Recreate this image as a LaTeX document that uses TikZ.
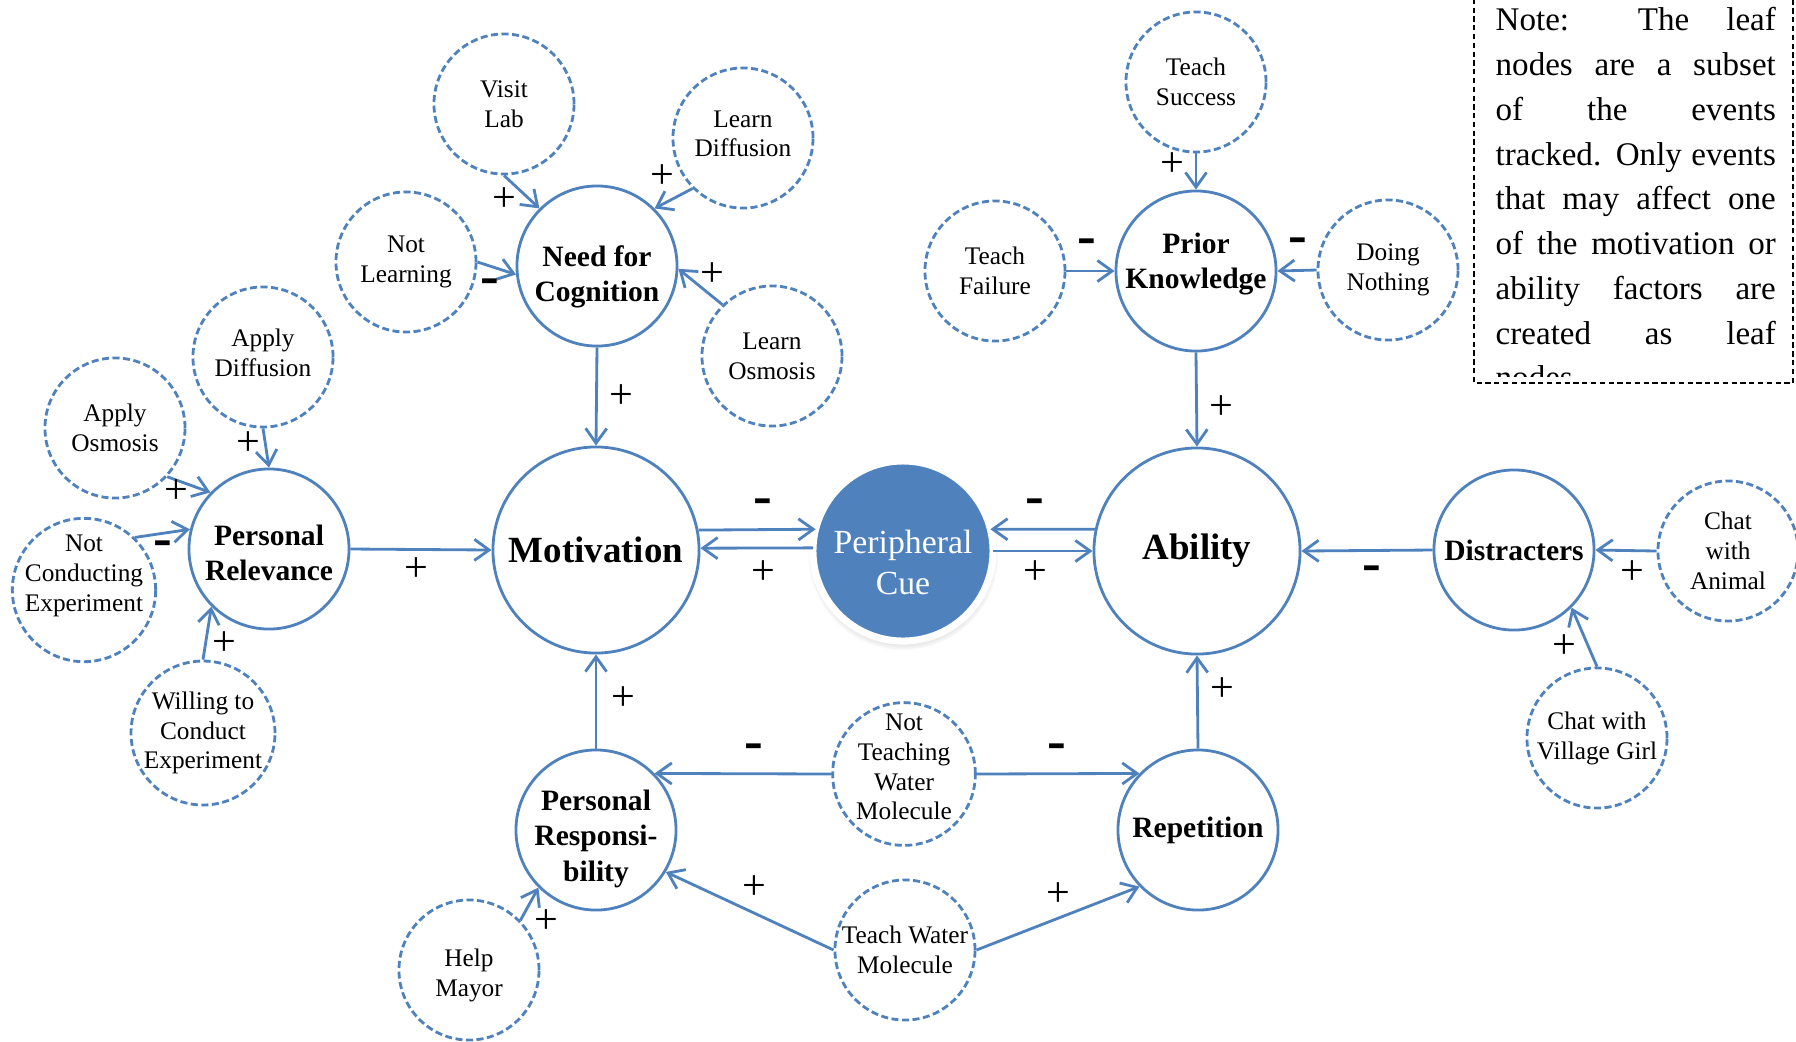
\documentclass[tikz,border=0pt]{standalone}
\usepackage{fontspec}
\setmainfont{Liberation Serif}
\usetikzlibrary{arrows.meta,shadows}
\definecolor{linkblue}{RGB}{79,129,189}
\newcommand{\noteline}[1]{\makebox[2.8cm][s]{#1}}
\newcommand{\tshift}[2]{\raisebox{#1}[\height][\depth]{#2}}
\tikzset{
  >={Straight Barb[length=4.2pt,width=6pt]},
  factor/.style={circle,draw=linkblue,line width=0.8pt,fill=white,
    minimum size=16mm,inner sep=0pt,align=center,
    font=\fontsize{8.4}{10}\selectfont\bfseries},
  bigfactor/.style={factor,minimum size=20.6mm,
    font=\fontsize{10.5}{12}\selectfont\bfseries},
  cuenode/.style={circle,fill=linkblue,draw=white,line width=2pt,
    minimum size=18mm,inner sep=0pt,outer sep=0pt,align=center,text=white,
    font=\fontsize{9.6}{11.8}\selectfont,
    circular drop shadow={shadow xshift=0pt,shadow yshift=-1pt,
      shadow scale=1.06,opacity=0.45}},
  leafevent/.style={circle,draw=linkblue,line width=0.8pt,
    dash pattern=on 2pt off 1pt,minimum size=14mm,inner sep=0pt,
    align=center,font=\fontsize{7.2}{8.5}\selectfont},
  infl/.style={->,draw=linkblue,line width=0.8pt},
  possign/.style={font=\fontsize{12}{12}\selectfont,inner sep=0pt},
  negsign/.style={font=\fontsize{16}{16}\selectfont\bfseries,inner sep=0pt},
  notetext/.style={anchor=north west,align=left,inner sep=0pt,
    font=\fontsize{9.4}{12.72}\selectfont},
  noteframe/.style={draw=black,line width=0.4pt,dash pattern=on 1.5pt off 1pt},
}

\begin{document}
\begin{tikzpicture}[x=0.01cm,y=-0.01cm]
  \useasboundingbox (0,0) rectangle (1796,1041);
  % core factors
  \node[bigfactor] (mot) at (596,550) {Motivation};
  \node[cuenode] (cue) at (903,551)
    {\tshift{-3.2pt}{Peripheral}\\\tshift{-3.2pt}{Cue}};
  \node[bigfactor] (abil) at (1197,551) {Ability};
  \node[factor] (nfc) at (597,266)
    {\tshift{-3.2pt}{Need for}\\\tshift{-3.2pt}{Cognition}};
  \node[factor] (prel) at (269,549)
    {\tshift{-1pt}{Personal}\\\tshift{-1pt}{Relevance}};
  \node[factor] (presp) at (596,830)
    {\tshift{-2.5pt}{Personal}\\\tshift{-2.5pt}{Responsi-}\\\tshift{-2.5pt}{bility}};
  \node[factor] (rep) at (1198,830) {Repetition};
  \node[factor] (pk) at (1196,271)
    {\tshift{2pt}{Prior}\\\tshift{2pt}{Knowledge}};
  \node[factor] (dist) at (1514,550) {Distracters};
  % leaf events
  \node[leafevent] (visit) at (504,104) {Visit\\Lab};
  \node[leafevent] (ldiff) at (743,138)
    {\tshift{1.2pt}{Learn}\\\tshift{1.2pt}{Diffusion}};
  \node[leafevent] (notl) at (406,262) {Not\\Learning};
  \node[leafevent] (losm) at (772,356) {Learn\\Osmosis};
  \node[leafevent] (adiff) at (263,357)
    {\tshift{1.3pt}{Apply}\\\tshift{1.3pt}{Diffusion}};
  \node[leafevent] (aosm) at (115,428) {Apply\\Osmosis};
  \node[leafevent] (notc) at (84,590)
    {\tshift{4pt}{Not}\\\tshift{4pt}{Conducting}\\\tshift{4pt}{Experiment}};
  \node[leafevent] (will) at (203,733) {Willing to\\Conduct\\Experiment};
  \node[leafevent] (help) at (469,970)
    {\tshift{-1.5pt}{Help}\\\tshift{-1.5pt}{Mayor}};
  \node[leafevent] (ntw) at (904,774)
    {\tshift{2pt}{Not}\\\tshift{2pt}{Teaching}\\\tshift{2pt}{Water}\\\tshift{2pt}{Molecule}};
  \node[leafevent] (tw) at (905,950) {Teach Water\\Molecule};
  \node[leafevent] (tsucc) at (1196,82) {Teach\\Success};
  \node[leafevent] (tfail) at (995,271) {Teach\\Failure};
  \node[leafevent] (doing) at (1388,270) {Doing\\Nothing};
  \node[leafevent] (chatA) at (1728,551) {Chat\\with\\Animal};
  \node[leafevent] (chatV) at (1597,738) {Chat with\\Village Girl};
  % influences on need for cognition
  \draw[infl] (visit.south) -- (nfc.135);
  \draw[infl] (ldiff.225) -- (nfc.45);
  \draw[infl] (notl.east) -- (nfc.186);
  \draw[infl] (losm.134) -- (nfc.-2);
  \draw[infl] (nfc.south) -- (mot.north);
  % influences on personal relevance
  \draw[infl] (adiff.south) -- (prel.north);
  \draw[infl] (aosm.-43) -- (prel.136);
  \draw[infl] (notc.46) -- (prel.166);
  \draw[infl] (will.north) -- (prel.225);
  \draw[infl] (prel.east) -- (mot.west);
  % peripheral cue
  \draw[infl] (mot.11) -- (cue.166);
  \draw[infl] (cue.178) -- (mot.1);
  \draw[infl] (abil.168) -- (cue.14);
  \draw[infl] (cue.0) -- (abil.180);
  % ability side
  \draw[infl] (pk.south) -- (abil.north);
  \draw[infl] (tsucc.south) -- (pk.north);
  \draw[infl] (tfail.east) -- (pk.west);
  \draw[infl] (doing.west) -- (pk.east);
  \draw[infl] (dist.west) -- (abil.east);
  \draw[infl] (chatA.west) -- (dist.east);
  \draw[infl] (chatV.north) -- (dist.-45);
  \draw[infl] (rep.north) -- (abil.south);
  % bottom row
  \draw[infl] (presp.north) -- (mot.south);
  \draw[infl] (ntw.west) -- (presp.44);
  \draw[infl] (ntw.east) -- (rep.136);
  \draw[infl] (tw.west) -- (presp.-31);
  \draw[infl] (tw.east) -- (rep.224);
  \draw[infl] (help.44) -- (presp.225);
  % signs
  \node[possign] (s1) at (504,200) {+};
  \node[possign] (s2) at (662,177) {+};
  \node[negsign] (s3) at (490,287) {-};
  \node[possign] (s4) at (712,275) {+};
  \node[possign] (s5) at (621,397) {+};
  \node[possign] (s6) at (248,444) {+};
  \node[possign] (s7) at (176,492) {+};
  \node[negsign] (s8) at (163,549) {-};
  \node[possign] (s9) at (224,644) {+};
  \node[possign] (s10) at (416,570) {+};
  \node[negsign] (s11) at (763,507) {-};
  \node[possign] (s12) at (763,573) {+};
  \node[negsign] (s13) at (1035,507) {-};
  \node[possign] (s14) at (1035,573) {+};
  \node[possign] (s15) at (1221,408) {+};
  \node[possign] (s16) at (1172,165) {+};
  \node[negsign] (s17) at (1087,247) {-};
  \node[negsign] (s18) at (1298,246) {-};
  \node[negsign] (s19) at (1372,574) {-};
  \node[possign] (s20) at (1632,573) {+};
  \node[possign] (s21) at (1564,647) {+};
  \node[possign] (s22) at (1222,690) {+};
  \node[possign] (s23) at (623,699) {+};
  \node[negsign] (s24) at (754,752) {-};
  \node[negsign] (s25) at (1057,752) {-};
  \node[possign] (s26) at (754,888) {+};
  \node[possign] (s27) at (1058,895) {+};
  \node[possign] (s28) at (546,922) {+};
  % note
  \draw[noteframe] (1474,-10) rectangle (1793,383);
  \begin{scope}
    \clip (1474,0) rectangle (1793,376);
    \node[notetext] (note) at (1495,7) {\noteline{Note: The leaf}\\
      \noteline{nodes are a subset}\\ \noteline{of the events}\\
      \noteline{tracked. Only events}\\ \noteline{that may affect one}\\
      \noteline{of the motivation or}\\ \noteline{ability factors are}\\
      \noteline{created as leaf}\\ nodes.};
  \end{scope}
\end{tikzpicture}
\end{document}
